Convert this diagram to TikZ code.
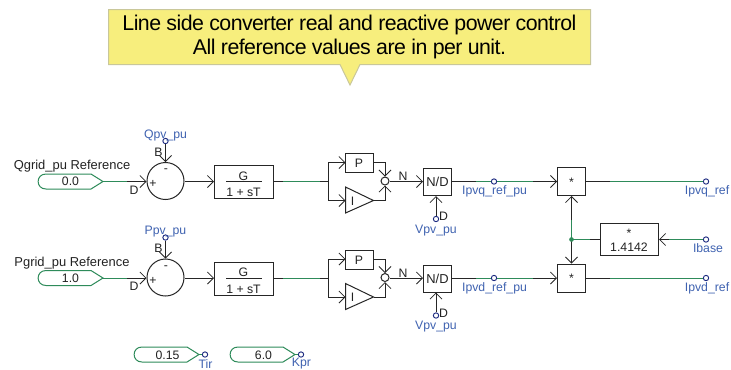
\documentclass[tikz,border=0pt]{standalone}
\usepackage{fontspec}
\setmainfont{Liberation Sans}
\newfontfamily\notefont[LetterSpace=-2.6]{Liberation Sans}
\usetikzlibrary{arrows.meta}
\definecolor{wiregreen}{HTML}{2E8B5A}
\definecolor{lblblue}{HTML}{3F62B0}
\definecolor{dotblue}{HTML}{1C2A80}
\definecolor{noteyellow}{HTML}{F7EE7D}
\definecolor{noteedge}{HTML}{C9C79A}
\definecolor{txt}{HTML}{222222}
\tikzset{
  px/.style={x=0.75pt,y=-0.75pt},
  wire/.style={line width=0.75pt,black!85},
  gwire/.style={line width=0.75pt,wiregreen},
  arr/.style={wire,-{Straight Barb[length=4.5pt,width=9pt,line width=0.6pt]}},
  block/.style={draw=black!85,line width=0.75pt,fill=white,inner sep=0pt,font=\fontsize{9}{10}\selectfont,text=txt},
  lbl/.style={inner sep=0pt,font=\fontsize{9.2}{10}\selectfont,text=txt},
  blbl/.style={inner sep=0pt,font=\fontsize{9.2}{10}\selectfont,text=lblblue},
  head/.style={inner sep=0pt,font=\fontsize{9.7}{10}\selectfont,text=txt},
  port/.style={circle,draw=dotblue,line width=0.7pt,fill=white,inner sep=0pt,minimum size=4pt},
  src/.style={draw=wiregreen,line width=0.75pt,fill=white},
}
\newcommand{\SrcShape}[3]{% name, left x, center y
  \draw[src] (#2+8,#3-7.5) -- (#2+53,#3-7.5) -- coordinate[pos=1] (#1tip) (#2+65,#3) -- (#2+53,#3+7.5) -- (#2+8,#3+7.5)
    .. controls (#2-2.5,#3+7.5) and (#2-2.5,#3-7.5) .. cycle;
}
\newcommand{\CtrlRow}[6]{% suffix, dy, source title, source value, feedback label, out label
\begin{scope}[shift={(0,#2)}]
  \node[head] (title#1) at (72,166.5) {#3};
  \SrcShape{src#1}{38}{181.5}
  \node[lbl] (val#1) at (70.5,181.5) {#4};
  \node[block,circle,minimum size=27.75pt] (sum#1) at (165.5,181) {};
  \node[lbl] (minus#1) at (166,171) {-};
  \node[lbl] (plus#1) at (153,184) {+};
  \node[lbl] (lD#1) at (134,190) {D};
  \node[lbl] (lB#1) at (158.5,152) {B};
  \node[port] (fb#1) at (165.5,141) {};
  \node[blbl] (fbl#1) at (165.5,135.5) {#5};
  \node[block,minimum width=44.25pt,minimum height=24.75pt] (g#1) at (244,182) {};
  \node[lbl] (gn#1) at (243.5,176) {G};
  \node[lbl] (gd#1) at (243.5,192.5) {1 + sT};
  \coordinate (gl#1) at (226,181.5);
  \coordinate (gr#1) at (262,181.5);
  \draw[line width=0.75pt,black!85] (gl#1) -- (gr#1);
  \node[block,minimum width=21pt,minimum height=14.25pt] (p#1) at (359.5,163) {};
  \node[lbl] at (359,163.5) {P};
  \coordinate (py#1) at (345.5,162.5);
  \coordinate (ia#1) at (345.5,187);
  \coordinate (ib#1) at (345.5,213);
  \coordinate (it#1) at (373.5,200.5);
  \draw[line width=0.75pt,black!85,fill=white] (ia#1) -- (it#1) -- (ib#1) -- cycle;
  \node[lbl] (il#1) at (352.5,201) {I};
  \node[block,circle,minimum size=6pt] (c#1) at (385,181) {};
  \node[lbl] (lN#1) at (403,176.5) {N};
  \node[block,minimum width=21pt,minimum height=20.25pt,font=\fontsize{9.7}{10}\selectfont] (nd#1) at (437.5,182) {N/D};
  \node[port] (v#1) at (436,219) {};
  \node[lbl] (lDv#1) at (443.5,216.5) {D};
  \node[blbl] (vl#1) at (436,230.5) {Vpv\_pu};
  \node[port] (r#1) at (494,181.5) {};
  \node[blbl] (rl#1) at (494.5,191.5) {#6\_pu};
  \node[block,minimum width=21pt,minimum height=21pt] (m#1) at (571.5,181.5) {};
  \node[lbl] at (571.5,182) {*};
  \node[port] (o#1) at (706,181.5) {};
  \node[blbl] (ol#1) at (707,191.5) {#6};
  % connectors
  \coordinate (a#1) at (127,181.5);
  \draw[gwire] (src#1tip) -- (a#1);
  \draw[arr] (a#1) -- (sum#1.west |- a#1);
  \draw[arr] (fb#1) -- (sum#1.north);
  \draw[arr] (sum#1.east |- a#1) -- (g#1.west |- a#1);
  \coordinate (b1#1) at (283,181.5);
  \coordinate (b2#1) at (320,181.5);
  \coordinate (j#1) at (328.5,181.5);
  \draw[wire] (g#1.east |- a#1) -- (b1#1);
  \draw[gwire] (b1#1) -- (b2#1);
  \draw[wire] (b2#1) -- (j#1);
  \draw[arr] (j#1) |- (py#1);
  \draw[arr] (j#1) |- (ia#1 |- it#1);
  \draw[arr] (p#1.east |- py#1) -| (c#1.north);
  \draw[arr] (it#1) -| (c#1.south);
  \draw[arr] (c#1.east |- a#1) -- (nd#1.west |- a#1);
  \draw[arr] (v#1) -- (v#1 |- nd#1.south);
  \coordinate (d1#1) at (476,181.5);
  \coordinate (d2#1) at (533,181.5);
  \draw[wire] (nd#1.east |- a#1) -- (d1#1);
  \draw[gwire] (d1#1) -- (r#1);
  \draw[gwire] (r#1) -- (d2#1);
  \draw[arr] (d2#1) -- (m#1.west |- a#1);
  \coordinate (e1#1) at (610,181.5);
  \draw[wire] (m#1.east |- a#1) -- (e1#1);
  \draw[gwire] (e1#1) -- (o#1);
\end{scope}
}
\begin{document}
\begin{tikzpicture}[px]
\useasboundingbox (0,0) rectangle (731,369);
% callout
\coordinate (ptip) at (350,85);
\draw[fill=noteyellow,draw=noteedge,line width=0.75pt]
  (108.5,9.5) -- (590.5,9.5) -- (590.5,64.5) -- (360,64.5) -- (ptip) -- (340,64.5) -- (108.5,64.5) -- cycle;
\node[align=center,inner sep=0pt,font=\notefont\fontsize{16}{17.3}\selectfont,text=black] (note) at (349.5,37)
  {Line side converter real and reactive power control\\All reference values are in per unit.};
% rows
\CtrlRow{q}{0}{Qgrid\_pu Reference}{0.0}{Qpv\_pu}{Ipvq\_ref}
\CtrlRow{d}{96.5}{Pgrid\_pu Reference}{1.0}{Ppv\_pu}{Ipvd\_ref}
% gain
\node[block,minimum width=43.5pt,minimum height=24pt] (k) at (629.5,239.5) {};
\node[lbl] at (629,233) {*};
\node[lbl] (kv) at (629,247.5) {1.4142};
\node[port] (ib) at (706,239.5) {};
\node[blbl] (ibl) at (708,248.5) {Ibase};
\coordinate (ib1) at (669,239.5);
\coordinate (k1) at (590,239.5);
\coordinate (tj) at (571.5,239.5);
\coordinate (tu) at (571.5,220);
\draw[gwire] (ib) -- (ib1);
\draw[arr] (ib1) -- (k.east);
\draw[wire] (k.west) -- (k1);
\draw[gwire] (k1) -- (tj);
\draw[gwire] (tj) -- (tu);
\draw[arr] (tu) -- (mq.south);
\draw[arr] (tj) -- (md.north);
\node[circle,fill=wiregreen,inner sep=0pt,minimum size=3.5pt] (jn) at (tj) {};
% constants
\SrcShape{tir}{134}{354.5}
\node[lbl] (tirv) at (167.5,355) {0.15};
\node[port] (tirp) at (205,354.5) {};
\node[blbl] (tirl) at (205.5,364) {Tir};
\draw[gwire] (tirtip) -- (tirp);
\SrcShape{kpr}{230}{354.5}
\node[lbl] (kprv) at (263.5,355) {6.0};
\node[port] (kprp) at (301,354.5) {};
\node[blbl] (kprl) at (301.5,364) {Kpr};
\draw[gwire] (kprtip) -- (kprp);
\end{tikzpicture}
\end{document}
